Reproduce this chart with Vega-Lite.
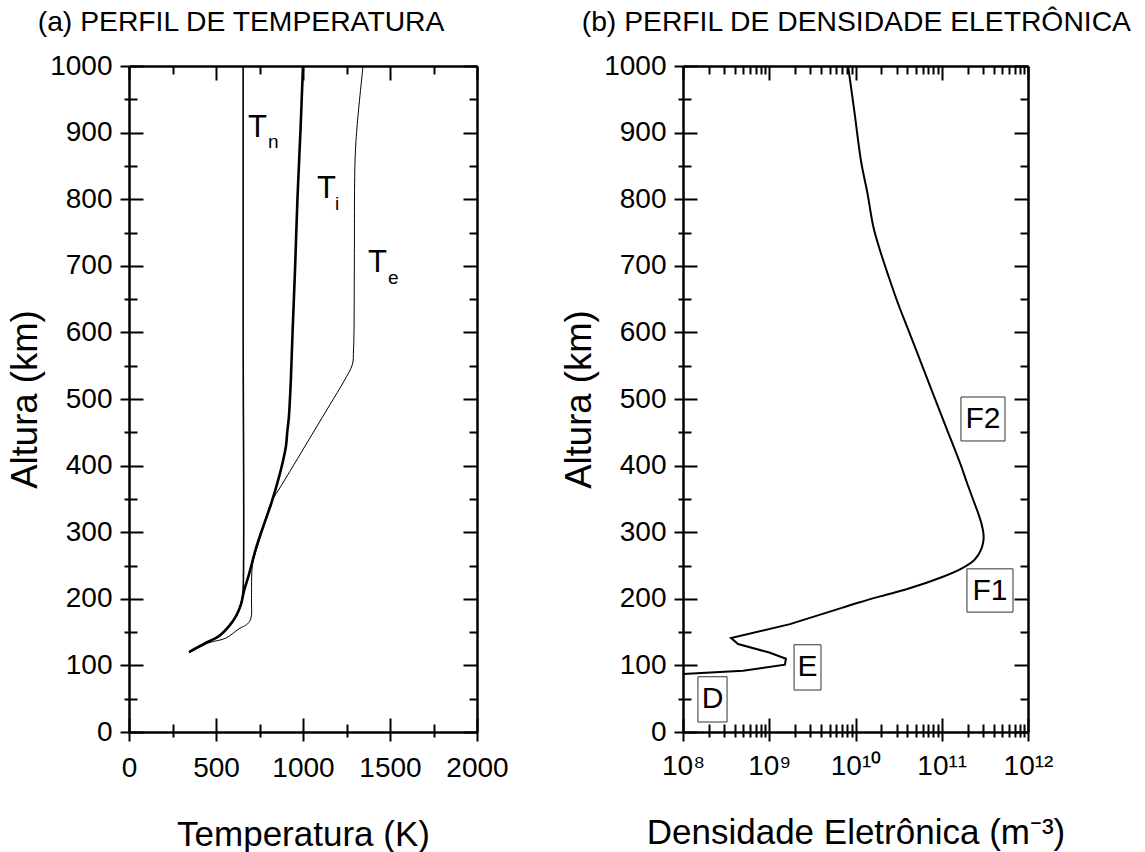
{
  "$schema": "https://vega.github.io/schema/vega-lite/v6.json",
  "background": "white",
  "padding": {"left": 7, "top": 7, "right": 5, "bottom": 5},
  "spacing": 52,
  "config": {
    "font": "Liberation Sans",
    "view": {"stroke": null},
    "axis": {"labelFont": "Liberation Sans", "titleFont": "Liberation Sans", "labelColor": "black", "titleColor": "black", "domainColor": "black", "tickColor": "black", "grid": false, "titleFontWeight": "normal", "labelFontSize": 28, "titleFontSize": 35, "domainWidth": 2.5, "tickWidth": 2, "labelOverlap": false, "labelFlush": false, "labelBound": false},
    "axisLeft": {"titleFontSize": 36.5},
    "title": {"font": "Liberation Sans", "fontSize": 28.3, "fontWeight": "normal", "color": "black", "anchor": "start", "frame": "bounds"}
  },
  "datasets": {
    "temp": [
      {"curve": "Tn", "T": 656, "alt": 1000}, {"curve": "Tn", "T": 656, "alt": 600}, {"curve": "Tn", "T": 656, "alt": 215}, {"curve": "Tn", "T": 650, "alt": 200}, {"curve": "Tn", "T": 642, "alt": 190}, {"curve": "Tn", "T": 615, "alt": 174}, {"curve": "Tn", "T": 575, "alt": 159}, {"curve": "Tn", "T": 517, "alt": 144}, {"curve": "Tn", "T": 443, "alt": 134}, {"curve": "Tn", "T": 345, "alt": 120},
      {"curve": "Ti", "T": 1000, "alt": 1000}, {"curve": "Ti", "T": 985, "alt": 900}, {"curve": "Ti", "T": 968, "alt": 800}, {"curve": "Ti", "T": 955, "alt": 700}, {"curve": "Ti", "T": 940, "alt": 600}, {"curve": "Ti", "T": 930, "alt": 527}, {"curve": "Ti", "T": 918, "alt": 470}, {"curve": "Ti", "T": 910, "alt": 452}, {"curve": "Ti", "T": 902, "alt": 429}, {"curve": "Ti", "T": 885, "alt": 407}, {"curve": "Ti", "T": 856, "alt": 377}, {"curve": "Ti", "T": 816, "alt": 342}, {"curve": "Ti", "T": 776, "alt": 312}, {"curve": "Ti", "T": 730, "alt": 276}, {"curve": "Ti", "T": 690, "alt": 237}, {"curve": "Ti", "T": 661, "alt": 212}, {"curve": "Ti", "T": 644, "alt": 192}, {"curve": "Ti", "T": 615, "alt": 174}, {"curve": "Ti", "T": 575, "alt": 159}, {"curve": "Ti", "T": 517, "alt": 144}, {"curve": "Ti", "T": 443, "alt": 134}, {"curve": "Ti", "T": 345, "alt": 120},
      {"curve": "Te", "T": 1345, "alt": 1000}, {"curve": "Te", "T": 1310, "alt": 907}, {"curve": "Te", "T": 1299, "alt": 857}, {"curve": "Te", "T": 1295, "alt": 700}, {"curve": "Te", "T": 1293, "alt": 600}, {"curve": "Te", "T": 1290, "alt": 572}, {"curve": "Te", "T": 1284, "alt": 552}, {"curve": "Te", "T": 1236, "alt": 527}, {"curve": "Te", "T": 1156, "alt": 492}, {"curve": "Te", "T": 1064, "alt": 452}, {"curve": "Te", "T": 970, "alt": 411}, {"curve": "Te", "T": 880, "alt": 372}, {"curve": "Te", "T": 816, "alt": 344}, {"curve": "Te", "T": 776, "alt": 312}, {"curve": "Te", "T": 735, "alt": 276}, {"curve": "Te", "T": 712, "alt": 255}, {"curve": "Te", "T": 706, "alt": 240}, {"curve": "Te", "T": 704, "alt": 200}, {"curve": "Te", "T": 701, "alt": 171}, {"curve": "Te", "T": 680, "alt": 162}, {"curve": "Te", "T": 632, "alt": 155}, {"curve": "Te", "T": 557, "alt": 141}, {"curve": "Te", "T": 460, "alt": 134}, {"curve": "Te", "T": 345, "alt": 120}
    ],
    "tbig": [
      {"T": 684, "alt": 894, "t": "T"}, {"T": 1080, "alt": 802, "t": "T"}, {"T": 1374, "alt": 691, "t": "T"}
    ],
    "tsub": [
      {"T": 799, "alt": 877, "t": "n"}, {"T": 1184, "alt": 784, "t": "i"}, {"T": 1489, "alt": 673, "t": "e"}
    ],
    "dens": [
      {"ne": 8.2e9, "alt": 1000}, {"ne": 9.7e9, "alt": 932}, {"ne": 1.16e10, "alt": 857}, {"ne": 1.38e10, "alt": 808}, {"ne": 1.62e10, "alt": 757}, {"ne": 1.98e10, "alt": 718}, {"ne": 2.45e10, "alt": 682}, {"ne": 3.12e10, "alt": 643}, {"ne": 4.0e10, "alt": 607}, {"ne": 5.24e10, "alt": 568}, {"ne": 6.71e10, "alt": 532}, {"ne": 8.85e10, "alt": 492}, {"ne": 1.135e11, "alt": 456}, {"ne": 1.65e11, "alt": 402}, {"ne": 1.95e11, "alt": 375}, {"ne": 2.28e11, "alt": 351}, {"ne": 2.62e11, "alt": 330}, {"ne": 2.9e11, "alt": 312}, {"ne": 3.05e11, "alt": 297}, {"ne": 3.04e11, "alt": 287}, {"ne": 2.9e11, "alt": 276}, {"ne": 2.68e11, "alt": 267}, {"ne": 2.37e11, "alt": 258}, {"ne": 1.67e11, "alt": 245}, {"ne": 9.8e10, "alt": 232}, {"ne": 4.06e10, "alt": 215}, {"ne": 1.98e10, "alt": 204}, {"ne": 1.07e10, "alt": 194}, {"ne": 6.79e9, "alt": 186}, {"ne": 1.74e9, "alt": 162}, {"ne": 3.61e8, "alt": 141}, {"ne": 4.35e8, "alt": 132}, {"ne": 1.02e9, "alt": 119}, {"ne": 1.56e9, "alt": 110}, {"ne": 1.52e9, "alt": 101}, {"ne": 4.97e8, "alt": 92}, {"ne": 1.0e8, "alt": 87}
    ],
    "boxes": [
      {"label": "F2", "x1": 1.67e11, "x2": 5.41e11, "y1": 437, "y2": 503, "xc": 3.0e11, "yc": 470},
      {"label": "F1", "x1": 1.96e11, "x2": 6.7e11, "y1": 180, "y2": 245, "xc": 3.62e11, "yc": 212},
      {"label": "E", "x1": 1.94e9, "x2": 3.98e9, "y1": 63, "y2": 131, "xc": 2.78e9, "yc": 97},
      {"label": "D", "x1": 1.49e8, "x2": 3.24e8, "y1": 15, "y2": 83, "xc": 2.2e8, "yc": 49}
    ]
  },
  "hconcat": [
    {
      "width": 348,
      "height": 666,
      "title": {"text": "(a) PERFIL DE TEMPERATURA", "dx": 30, "offset": 15},
      "resolve": {"axis": {"x": "independent", "y": "independent"}},
      "layer": [
        {
          "data": {"name": "temp"},
          "transform": [{"filter": "datum.curve === 'Tn'"}],
          "mark": {"type": "line", "color": "black", "strokeWidth": 1.6, "interpolate": "catmull-rom"},
          "encoding": {
            "x": {"field": "T", "type": "quantitative", "scale": {"domain": [0, 2000], "nice": false, "zero": false},
              "axis": {"orient": "bottom", "values": [0, 250, 500, 750, 1000, 1250, 1500, 1750, 2000],
                "tickSize": {"condition": {"test": "datum.value % 500 === 0", "value": 9}, "value": 5},
                "labelExpr": "datum.value % 500 === 0 ? '' + datum.value : ''", "labelPadding": 13,
                "title": "Temperatura (K)", "titlePadding": 35}},
            "y": {"field": "alt", "type": "quantitative", "scale": {"domain": [0, 1000], "nice": false, "zero": false},
              "axis": {"orient": "left", "values": [0, 50, 100, 150, 200, 250, 300, 350, 400, 450, 500, 550, 600, 650, 700, 750, 800, 850, 900, 950, 1000],
                "tickSize": {"condition": {"test": "datum.value % 100 === 0", "value": 9}, "value": 5},
                "labelExpr": "datum.value % 100 === 0 ? '' + datum.value : ''", "labelPadding": 8,
                "title": "Altura (km)", "titlePadding": 5}},
            "order": {"field": "alt", "type": "quantitative"}
          }
        },
        {
          "data": {"name": "temp"},
          "transform": [{"filter": "datum.curve === 'Ti'"}],
          "mark": {"type": "line", "color": "black", "strokeWidth": 2.6, "interpolate": "catmull-rom"},
          "encoding": {
            "x": {"field": "T", "type": "quantitative", "axis": null},
            "y": {"field": "alt", "type": "quantitative", "axis": null},
            "order": {"field": "alt", "type": "quantitative"}
          }
        },
        {
          "data": {"name": "temp"},
          "transform": [{"filter": "datum.curve === 'Te'"}],
          "mark": {"type": "line", "color": "black", "strokeWidth": 1.0, "interpolate": "catmull-rom"},
          "encoding": {
            "x": {"field": "T", "type": "quantitative", "axis": null},
            "y": {"field": "alt", "type": "quantitative", "axis": null},
            "order": {"field": "alt", "type": "quantitative"}
          }
        },
        {
          "data": {"name": "temp"},
          "mark": {"type": "point", "opacity": 0},
          "encoding": {
            "x": {"field": "T", "type": "quantitative",
              "axis": {"orient": "bottom", "values": [0, 250, 500, 750, 1000, 1250, 1500, 1750, 2000], "domain": false, "labels": false, "title": null,
                "tickSize": {"condition": {"test": "datum.value % 500 === 0", "value": -14}, "value": -8}}},
            "y": {"field": "alt", "type": "quantitative",
              "axis": {"orient": "left", "values": [0, 50, 100, 150, 200, 250, 300, 350, 400, 450, 500, 550, 600, 650, 700, 750, 800, 850, 900, 950, 1000], "domain": false, "labels": false, "title": null,
                "tickSize": {"condition": {"test": "datum.value % 100 === 0", "value": -14}, "value": -8}}}
          }
        },
        {
          "data": {"name": "temp"},
          "mark": {"type": "point", "opacity": 0},
          "encoding": {
            "x": {"field": "T", "type": "quantitative",
              "axis": {"orient": "top", "values": [0, 250, 500, 750, 1000, 1250, 1500, 1750, 2000], "labels": false, "title": null,
                "tickSize": {"condition": {"test": "datum.value % 500 === 0", "value": -14}, "value": -8}}},
            "y": {"field": "alt", "type": "quantitative",
              "axis": {"orient": "right", "values": [0, 50, 100, 150, 200, 250, 300, 350, 400, 450, 500, 550, 600, 650, 700, 750, 800, 850, 900, 950, 1000], "labels": false, "title": null,
                "tickSize": {"condition": {"test": "datum.value % 100 === 0", "value": -14}, "value": -8}}}
          }
        },
        {
          "data": {"name": "tbig"},
          "mark": {"type": "text", "fontSize": 31, "align": "left", "baseline": "alphabetic", "font": "Liberation Sans", "color": "black"},
          "encoding": {
            "x": {"field": "T", "type": "quantitative", "axis": null},
            "y": {"field": "alt", "type": "quantitative", "axis": null},
            "text": {"field": "t"}
          }
        },
        {
          "data": {"name": "tsub"},
          "mark": {"type": "text", "fontSize": 19, "align": "left", "baseline": "alphabetic", "font": "Liberation Sans", "color": "black"},
          "encoding": {
            "x": {"field": "T", "type": "quantitative", "axis": null},
            "y": {"field": "alt", "type": "quantitative", "axis": null},
            "text": {"field": "t"}
          }
        }
      ]
    },
    {
      "width": 345,
      "height": 666,
      "title": {"text": "(b) PERFIL DE DENSIDADE ELETRÔNICA", "dx": 20, "offset": 15},
      "resolve": {"axis": {"x": "independent", "y": "independent"}},
      "layer": [
        {
          "data": {"name": "dens"},
          "transform": [{"filter": "datum.alt >= 186"}],
          "mark": {"type": "line", "color": "black", "strokeWidth": 2, "interpolate": "catmull-rom"},
          "encoding": {
            "x": {"field": "ne", "type": "quantitative", "scale": {"type": "log", "domain": [1e8, 1e12], "nice": false},
              "axis": {"orient": "bottom", "values": [1e8, 2e8, 3e8, 4e8, 5e8, 6e8, 7e8, 8e8, 9e8, 1e9, 2e9, 3e9, 4e9, 5e9, 6e9, 7e9, 8e9, 9e9, 1e10, 2e10, 3e10, 4e10, 5e10, 6e10, 7e10, 8e10, 9e10, 1e11, 2e11, 3e11, 4e11, 5e11, 6e11, 7e11, 8e11, 9e11, 1e12],
                "tickSize": {"condition": {"test": "abs(log(datum.value)/LN10 - round(log(datum.value)/LN10)) < 0.001", "value": 9}, "value": 5},
                "labelExpr": "datum.value == 1e8 ? '10⁸' : datum.value == 1e9 ? '10⁹' : datum.value == 1e10 ? '10¹⁰' : datum.value == 1e11 ? '10¹¹' : datum.value == 1e12 ? '10¹²' : ''", "labelPadding": 11,
                "title": "Densidade Eletrônica (m⁻³)", "titlePadding": 35}},
            "y": {"field": "alt", "type": "quantitative", "scale": {"domain": [0, 1000], "nice": false, "zero": false},
              "axis": {"orient": "left", "values": [0, 50, 100, 150, 200, 250, 300, 350, 400, 450, 500, 550, 600, 650, 700, 750, 800, 850, 900, 950, 1000],
                "tickSize": {"condition": {"test": "datum.value % 100 === 0", "value": 9}, "value": 5},
                "labelExpr": "datum.value % 100 === 0 ? '' + datum.value : ''", "labelPadding": 8,
                "title": "Altura (km)", "titlePadding": 5}},
            "order": {"field": "alt", "type": "quantitative"}
          }
        },
        {
          "data": {"name": "dens"},
          "transform": [{"filter": "datum.alt <= 186"}],
          "mark": {"type": "line", "color": "black", "strokeWidth": 2},
          "encoding": {
            "x": {"field": "ne", "type": "quantitative", "axis": null},
            "y": {"field": "alt", "type": "quantitative", "axis": null},
            "order": {"field": "alt", "type": "quantitative"}
          }
        },
        {
          "data": {"name": "dens"},
          "mark": {"type": "point", "opacity": 0},
          "encoding": {
            "x": {"field": "ne", "type": "quantitative",
              "axis": {"orient": "bottom", "values": [1e8, 2e8, 3e8, 4e8, 5e8, 6e8, 7e8, 8e8, 9e8, 1e9, 2e9, 3e9, 4e9, 5e9, 6e9, 7e9, 8e9, 9e9, 1e10, 2e10, 3e10, 4e10, 5e10, 6e10, 7e10, 8e10, 9e10, 1e11, 2e11, 3e11, 4e11, 5e11, 6e11, 7e11, 8e11, 9e11, 1e12], "domain": false, "labels": false, "title": null,
                "tickSize": {"condition": {"test": "abs(log(datum.value)/LN10 - round(log(datum.value)/LN10)) < 0.001", "value": -14}, "value": -8}}},
            "y": {"field": "alt", "type": "quantitative",
              "axis": {"orient": "left", "values": [0, 50, 100, 150, 200, 250, 300, 350, 400, 450, 500, 550, 600, 650, 700, 750, 800, 850, 900, 950, 1000], "domain": false, "labels": false, "title": null,
                "tickSize": {"condition": {"test": "datum.value % 100 === 0", "value": -14}, "value": -8}}}
          }
        },
        {
          "data": {"name": "dens"},
          "mark": {"type": "point", "opacity": 0},
          "encoding": {
            "x": {"field": "ne", "type": "quantitative",
              "axis": {"orient": "top", "values": [1e8, 2e8, 3e8, 4e8, 5e8, 6e8, 7e8, 8e8, 9e8, 1e9, 2e9, 3e9, 4e9, 5e9, 6e9, 7e9, 8e9, 9e9, 1e10, 2e10, 3e10, 4e10, 5e10, 6e10, 7e10, 8e10, 9e10, 1e11, 2e11, 3e11, 4e11, 5e11, 6e11, 7e11, 8e11, 9e11, 1e12], "labels": false, "title": null,
                "tickSize": {"condition": {"test": "abs(log(datum.value)/LN10 - round(log(datum.value)/LN10)) < 0.001", "value": -14}, "value": -8}}},
            "y": {"field": "alt", "type": "quantitative",
              "axis": {"orient": "right", "values": [0, 50, 100, 150, 200, 250, 300, 350, 400, 450, 500, 550, 600, 650, 700, 750, 800, 850, 900, 950, 1000], "labels": false, "title": null,
                "tickSize": {"condition": {"test": "datum.value % 100 === 0", "value": -14}, "value": -8}}}
          }
        },
        {
          "data": {"name": "boxes"},
          "mark": {"type": "rect", "fill": "white", "stroke": "#333333", "strokeWidth": 1},
          "encoding": {
            "x": {"field": "x1", "type": "quantitative", "axis": null},
            "x2": {"field": "x2"},
            "y": {"field": "y1", "type": "quantitative", "axis": null},
            "y2": {"field": "y2"}
          }
        },
        {
          "data": {"name": "boxes"},
          "mark": {"type": "text", "fontSize": 30, "align": "center", "baseline": "middle", "font": "Liberation Sans", "color": "black"},
          "encoding": {
            "x": {"field": "xc", "type": "quantitative", "axis": null},
            "y": {"field": "yc", "type": "quantitative", "axis": null},
            "text": {"field": "label"}
          }
        }
      ]
    }
  ]
}
